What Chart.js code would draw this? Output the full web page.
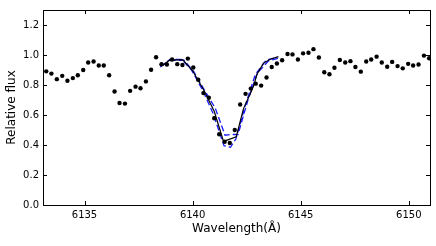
<!DOCTYPE html>
<html><head><meta charset="utf-8">
<script src="https://cdn.jsdelivr.net/npm/chart.js@4/dist/chart.umd.min.js"></script>
<style>html,body{margin:0;padding:0;background:#fff}#w{width:436px;height:246px}</style>
</head><body><div id="w"><canvas id="c" width="436" height="246"></canvas></div>
<script>
const obsWave = [6133.23,6133.47,6133.72,6133.97,6134.21,6134.46,6134.69,6134.94,6135.17,6135.42,6135.66,6135.89,6136.14,6136.39,6136.62,6136.87,6137.11,6137.36,6137.59,6137.84,6138.08,6138.31,6138.56,6138.81,6139.05,6139.29,6139.53,6139.78,6140.03,6140.26,6140.50,6140.75,6141.00,6141.23,6141.48,6141.72,6141.95,6142.20,6142.45,6142.69,6142.92,6143.17,6143.42,6143.66,6143.90,6144.14,6144.39,6144.62,6144.87,6145.11,6145.36,6145.59,6145.84,6146.09,6146.33,6146.56,6146.81,6147.06,6147.30,6147.53,6147.78,6148.03,6148.26,6148.51,6148.75,6149.00,6149.23,6149.48,6149.72,6149.97,6150.20,6150.45,6150.70,6150.94];
const obsFlux = [0.891,0.876,0.839,0.861,0.828,0.846,0.865,0.900,0.950,0.957,0.930,0.930,0.865,0.757,0.680,0.676,0.761,0.789,0.778,0.824,0.902,0.985,0.939,0.937,0.970,0.939,0.933,0.976,0.917,0.835,0.746,0.715,0.578,0.472,0.422,0.413,0.500,0.670,0.741,0.776,0.809,0.796,0.850,0.920,0.943,0.965,1.007,1.004,0.970,1.011,1.015,1.039,0.983,0.885,0.872,0.915,0.967,0.950,0.959,0.920,0.889,0.957,0.970,0.989,0.950,0.922,0.954,0.926,0.911,0.941,0.930,0.937,0.996,0.978];
const modelWave = [6138.55,6138.95,6139.55,6140.00,6140.50,6141.00,6141.43,6142.02,6142.35,6142.82,6142.97,6143.28,6143.59,6143.97];
const modelFlux = [0.925,0.967,0.967,0.895,0.770,0.625,0.424,0.455,0.641,0.793,0.870,0.946,0.972,0.989];
const lowWave = [6138.50,6138.95,6139.50,6139.95,6140.45,6140.95,6141.45,6141.75,6142.00,6142.45,6142.90,6143.40,6143.90];
const lowFlux = [0.920,0.970,0.970,0.900,0.770,0.610,0.395,0.385,0.440,0.670,0.870,0.965,0.985];
const highWave = [6138.60,6139.00,6139.60,6140.05,6140.55,6141.05,6141.50,6141.80,6142.10,6142.55,6143.00,6143.50,6144.00];
const highFlux = [0.930,0.965,0.965,0.890,0.765,0.645,0.465,0.470,0.470,0.695,0.880,0.960,0.980];
const xTicks = [6135,6140,6145,6150];
const yTicks = [0.0,0.2,0.4,0.6,0.8,1.0,1.2];

const pts = (xs, ys) => xs.map((x,i)=>({x:x,y:ys[i]}));
const FONT = "'DejaVu Sans', sans-serif";

const frame = {
  id:'frame',
  afterDraw(chart){
    const {ctx, chartArea:a, scales:{x,y}} = chart;
    ctx.save();
    ctx.strokeStyle='#000'; ctx.lineWidth=1;
    ctx.beginPath();
    xTicks.forEach(v=>{const p=Math.round(x.getPixelForValue(v))+0.5;
      ctx.moveTo(p,a.bottom);ctx.lineTo(p,a.bottom-4);
      ctx.moveTo(p,a.top);ctx.lineTo(p,a.top+4);});
    yTicks.forEach(v=>{const p=Math.round(y.getPixelForValue(v))+0.5;
      ctx.moveTo(a.left,p);ctx.lineTo(a.left+4,p);
      ctx.moveTo(a.right,p);ctx.lineTo(a.right-4,p);});
    ctx.stroke();
    ctx.strokeRect(Math.round(a.left)+0.5,Math.round(a.top)+0.5,Math.round(a.right-a.left),Math.round(a.bottom-a.top));
    ctx.restore();
  }
};

new Chart(document.getElementById('c'),{
  type:'scatter',
  data:{datasets:[
    {data:pts(obsWave,obsFlux),showLine:false,pointRadius:2.2,pointBackgroundColor:'#000',pointBorderWidth:0,borderColor:'#000'},
    {data:pts(modelWave,modelFlux),showLine:true,pointRadius:0,borderColor:'#000',borderWidth:1.2},
    {data:pts(lowWave,lowFlux),showLine:true,pointRadius:0,borderColor:'#1a1aff',borderWidth:1.3,borderDash:[6,3]},
    {data:pts(highWave,highFlux),showLine:true,pointRadius:0,borderColor:'#1a1aff',borderWidth:1.3,borderDash:[6,3]}
  ]},
  options:{
    responsive:false,animation:false,devicePixelRatio:1,
    layout:{padding:{top:5,right:6,left:0,bottom:0}},
    plugins:{legend:{display:false},tooltip:{enabled:false}},
    scales:{
      x:{type:'linear',min:6133.08,max:6150.98,
        afterBuildTicks:s=>{s.ticks=xTicks.map(v=>({value:v}));},
        afterFit:s=>{s.height=41;},
        grid:{display:false,drawTicks:false},border:{display:false},
        ticks:{padding:4,color:'#000',font:{family:FONT,size:10},maxRotation:0,callback:v=>String(v)},
        title:{display:true,text:'Wavelength(Å)',color:'#000',font:{family:FONT,size:12},padding:{top:2,bottom:10}}
      },
      y:{type:'linear',min:0,max:1.3,
        afterBuildTicks:s=>{s.ticks=yTicks.map(v=>({value:v}));},
        afterFit:s=>{s.width=43;},
        grid:{display:false,drawTicks:false},border:{display:false},
        ticks:{padding:4,color:'#000',font:{family:FONT,size:10},callback:v=>Number(v).toFixed(1)},
        title:{display:true,text:'Relative flux',color:'#000',font:{family:FONT,size:12},padding:{top:5,bottom:2}}
      }
    }
  },
  plugins:[frame]
});
</script></body></html>
